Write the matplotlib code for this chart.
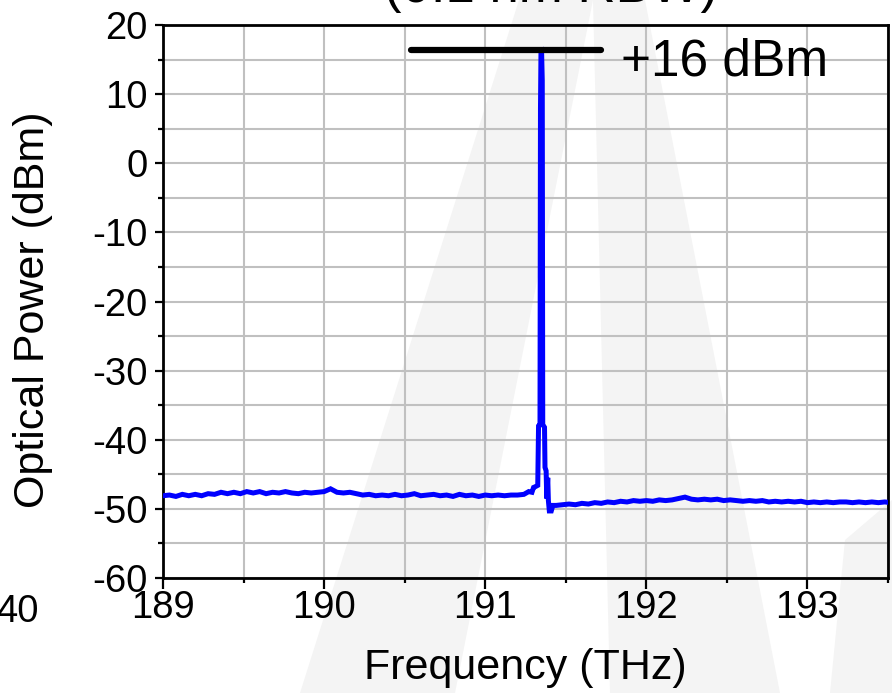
import matplotlib
matplotlib.use("Agg")
import matplotlib.pyplot as plt
from matplotlib.patches import Polygon
from matplotlib.ticker import MultipleLocator

plt.rcParams['font.family'] = ['Liberation Sans', 'DejaVu Sans']
plt.rcParams['axes.unicode_minus'] = False

# ---------------- data ----------------
freq_left = [189.00, 189.04, 189.08, 189.12, 189.16, 189.20, 189.24, 189.28, 189.32, 189.36,
             189.40, 189.44, 189.48, 189.52, 189.56, 189.60, 189.64, 189.68, 189.72, 189.76,
             189.80, 189.84, 189.88, 189.92, 189.96, 190.00, 190.04, 190.08, 190.12, 190.16,
             190.20, 190.24, 190.28, 190.32, 190.36, 190.40, 190.44, 190.48, 190.52, 190.56,
             190.60, 190.64, 190.68, 190.72, 190.76, 190.80, 190.84, 190.88, 190.92, 190.96,
             191.00, 191.04, 191.08, 191.12, 191.16, 191.20, 191.24, 191.27, 191.29, 191.30,
             191.31, 191.326]
power_left = [-48.1, -48.0, -48.2, -47.9, -48.1, -47.9, -48.1, -47.8, -47.9, -47.6,
              -47.8, -47.6, -47.8, -47.5, -47.7, -47.5, -47.8, -47.6, -47.7, -47.5,
              -47.7, -47.8, -47.6, -47.7, -47.6, -47.5, -47.1, -47.6, -47.7, -47.6,
              -47.8, -48.0, -47.9, -48.1, -48.0, -48.1, -47.9, -48.1, -48.0, -47.8,
              -48.1, -48.0, -47.9, -48.1, -48.0, -48.2, -47.9, -48.1, -48.0, -48.2,
              -48.0, -48.1, -48.0, -48.1, -48.0, -48.0, -47.9, -47.5, -47.6, -46.9,
              -46.8, -46.6]

freq_peak = [191.331, 191.340, 191.343, 191.346, 191.350, 191.354, 191.357, 191.368,
             191.371, 191.378, 191.382, 191.388, 191.392, 191.398, 191.410, 191.420]
power_peak = [-38.0, -37.8, 8.0, 15.9, 16.0, 12.0, -37.8, -38.2,
              -44.0, -44.5, -48.5, -45.5, -48.8, -50.3, -50.3, -49.5]

freq_right = [191.44, 191.48, 191.52, 191.56, 191.60, 191.64, 191.68, 191.72, 191.76, 191.80,
              191.84, 191.88, 191.92, 191.96, 192.00, 192.04, 192.08, 192.12, 192.16, 192.20,
              192.24, 192.28, 192.32, 192.36, 192.40, 192.44, 192.48, 192.52, 192.56, 192.60,
              192.64, 192.68, 192.72, 192.76, 192.80, 192.84, 192.88, 192.92, 192.96, 193.00,
              193.04, 193.08, 193.12, 193.16, 193.20, 193.24, 193.28, 193.32, 193.36, 193.40,
              193.44, 193.48, 193.52]
power_right = [-49.5, -49.4, -49.3, -49.4, -49.2, -49.3, -49.1, -49.2, -49.0, -49.1,
               -48.9, -49.0, -48.8, -48.9, -48.8, -48.9, -48.7, -48.8, -48.7, -48.5,
               -48.3, -48.6, -48.7, -48.6, -48.7, -48.6, -48.8, -48.7, -48.8, -48.9,
               -48.8, -48.9, -48.8, -49.0, -48.9, -49.0, -48.9, -49.0, -48.9, -49.1,
               -49.0, -49.1, -49.0, -49.1, -49.0, -49.0, -49.1, -49.0, -49.1, -49.0,
               -49.1, -49.0, -49.1]

marker_x = [190.54, 191.72]
marker_level = 16.4
marker_label = "+16 dBm"

x_ticks = [189, 190, 191, 192, 193]
y_ticks = [-60, -50, -40, -30, -20, -10, 0, 10, 20]

freq = freq_left + freq_peak + freq_right
power = power_left + power_peak + power_right

# ---------------- figure ----------------
W, H = 892, 693
fig = plt.figure(figsize=(W / 100, H / 100), dpi=100)

# very faint background watermark (pixel coords, top-left origin)
def px(pts):
    return [(x / W, 1 - y / H) for x, y in pts]

wm_color = '#f4f4f4'
for pts in ([(519, 0), (593, 0), (455, 693), (300, 693)],
            [(593, 0), (645, 0), (780, 693), (610, 693)],
            [(845, 540), (892, 500), (892, 693), (830, 693)]):
    fig.patches.append(Polygon(px(pts), closed=True, transform=fig.transFigure,
                               facecolor=wm_color, edgecolor='none', zorder=-10))

ax = fig.add_axes([163 / W, (H - 578) / H, (888 - 163) / W, (578 - 25) / H])
ax.set_facecolor('none')

ax.plot(freq, power, color='#0000ff', lw=3.6, solid_joinstyle='miter', zorder=3)
ax.plot(marker_x, [marker_level, marker_level], color='black', lw=4.5,
        solid_capstyle='round', zorder=4, clip_on=False)
ax.text(191.84, 14.7, marker_label, fontsize=37, ha='left', va='center', zorder=5)

ax.set_xlim(189, 193.5)
ax.set_ylim(-60, 20)
ax.set_xticks(x_ticks)
ax.set_yticks(y_ticks)
ax.xaxis.set_minor_locator(MultipleLocator(0.5))
ax.yaxis.set_minor_locator(MultipleLocator(5))

ax.grid(True, which='both', color='#c0c0c0', lw=1.5, zorder=0)
ax.set_axisbelow(True)

for s in ax.spines.values():
    s.set_linewidth(2.0)
    s.set_color('black')

ax.tick_params(axis='both', which='major', direction='out', width=1.6,
               labelsize=27.5, color='black')
ax.tick_params(axis='x', which='major', length=8, pad=1)
ax.tick_params(axis='y', which='major', length=6, pad=5)
ax.tick_params(axis='both', which='minor', direction='out', length=3.5, width=1.6)
ax.tick_params(axis='both', which='both', top=False, right=False)

ax.set_xlabel('Frequency (THz)', fontsize=31)
ax.set_ylabel('Optical Power (dBm)', fontsize=31)
ax.xaxis.set_label_coords(0.5, -0.127)
ax.yaxis.set_label_coords(-0.152, 0.485)

# partially clipped texts at the edges of the picture
fig.text(551 / W, 1 - 2 / H, '(0.1 nm RBW)', fontsize=38, ha='center', va='baseline')
fig.text(39 / W, 1 - 594 / H, '40', fontsize=27.5, ha='right', va='top')

fig.savefig('out.png', dpi=100)
